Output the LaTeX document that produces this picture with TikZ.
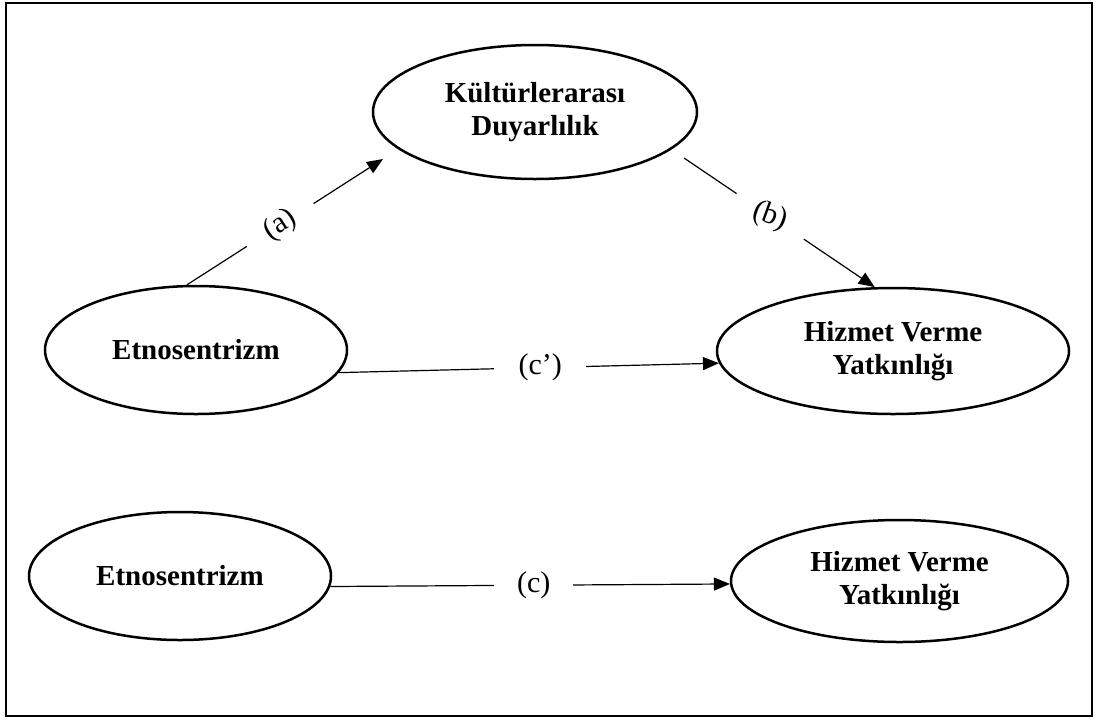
\documentclass[tikz,border=0pt]{standalone}
\usepackage{fontspec}
\setmainfont{Liberation Serif}
\usetikzlibrary{shapes.geometric,arrows.meta,calc}
\begin{document}
\begin{tikzpicture}[x=1pt,y=-1pt,
  ell/.style={draw, ellipse, line width=2.5pt, inner sep=0pt, align=center,
    font=\fontsize{29}{33}\selectfont\bfseries},
  conn/.style={line width=1.2pt},
  arr/.style={conn, -{Triangle[length=16pt,width=13pt]}},
  gap/.style={fill=white, inner sep=0pt, minimum height=8pt},
  lbl/.style={gap, font=\fontsize{30}{33}\selectfont}]
\useasboundingbox (0,0) rectangle (1097,724);
\draw[line width=2.5pt] (6,3) rectangle (1092,716);
% nodes
\node[ell, minimum width=324pt, minimum height=134pt] (kd) at (535,112) {Kültürlerarası\\Duyarlılık};
\node[ell, minimum width=302pt, minimum height=128pt] (ety) at (196,350) {Etnosentrizm};
\node[ell, minimum width=352pt, minimum height=126pt] (hz) at (893,351) {Hizmet Verme\\Yatkınlığı};
\node[ell, minimum width=302pt, minimum height=128pt] (ety2) at (180,576) {Etnosentrizm};
\node[ell, minimum width=337pt, minimum height=122pt] (hz2) at (899.5,581) {Hizmet Verme\\Yatkınlığı};
% free ends
\coordinate (aE) at (383,159);
\coordinate (bS) at (684,158);
% connectors
\draw[arr] (ety.98) -- node[lbl, sloped, pos=0.476, minimum width=79pt] {(a)} (aE);
\draw[arr] (bS) -- node[gap, sloped, pos=0.452, minimum width=81pt] {}
  node[pos=0.452, rotate=-20, font=\fontsize{30}{33}\selectfont] {(b)} (hz.106);
\draw[arr] (ety.-9) -- node[lbl, pos=0.530, minimum width=92pt] {(c’)} (hz.184);
\draw[arr] (ety2.-4) -- node[lbl, pos=0.509, minimum width=79pt] {(c)} (hz2.181);
\end{tikzpicture}
\end{document}
